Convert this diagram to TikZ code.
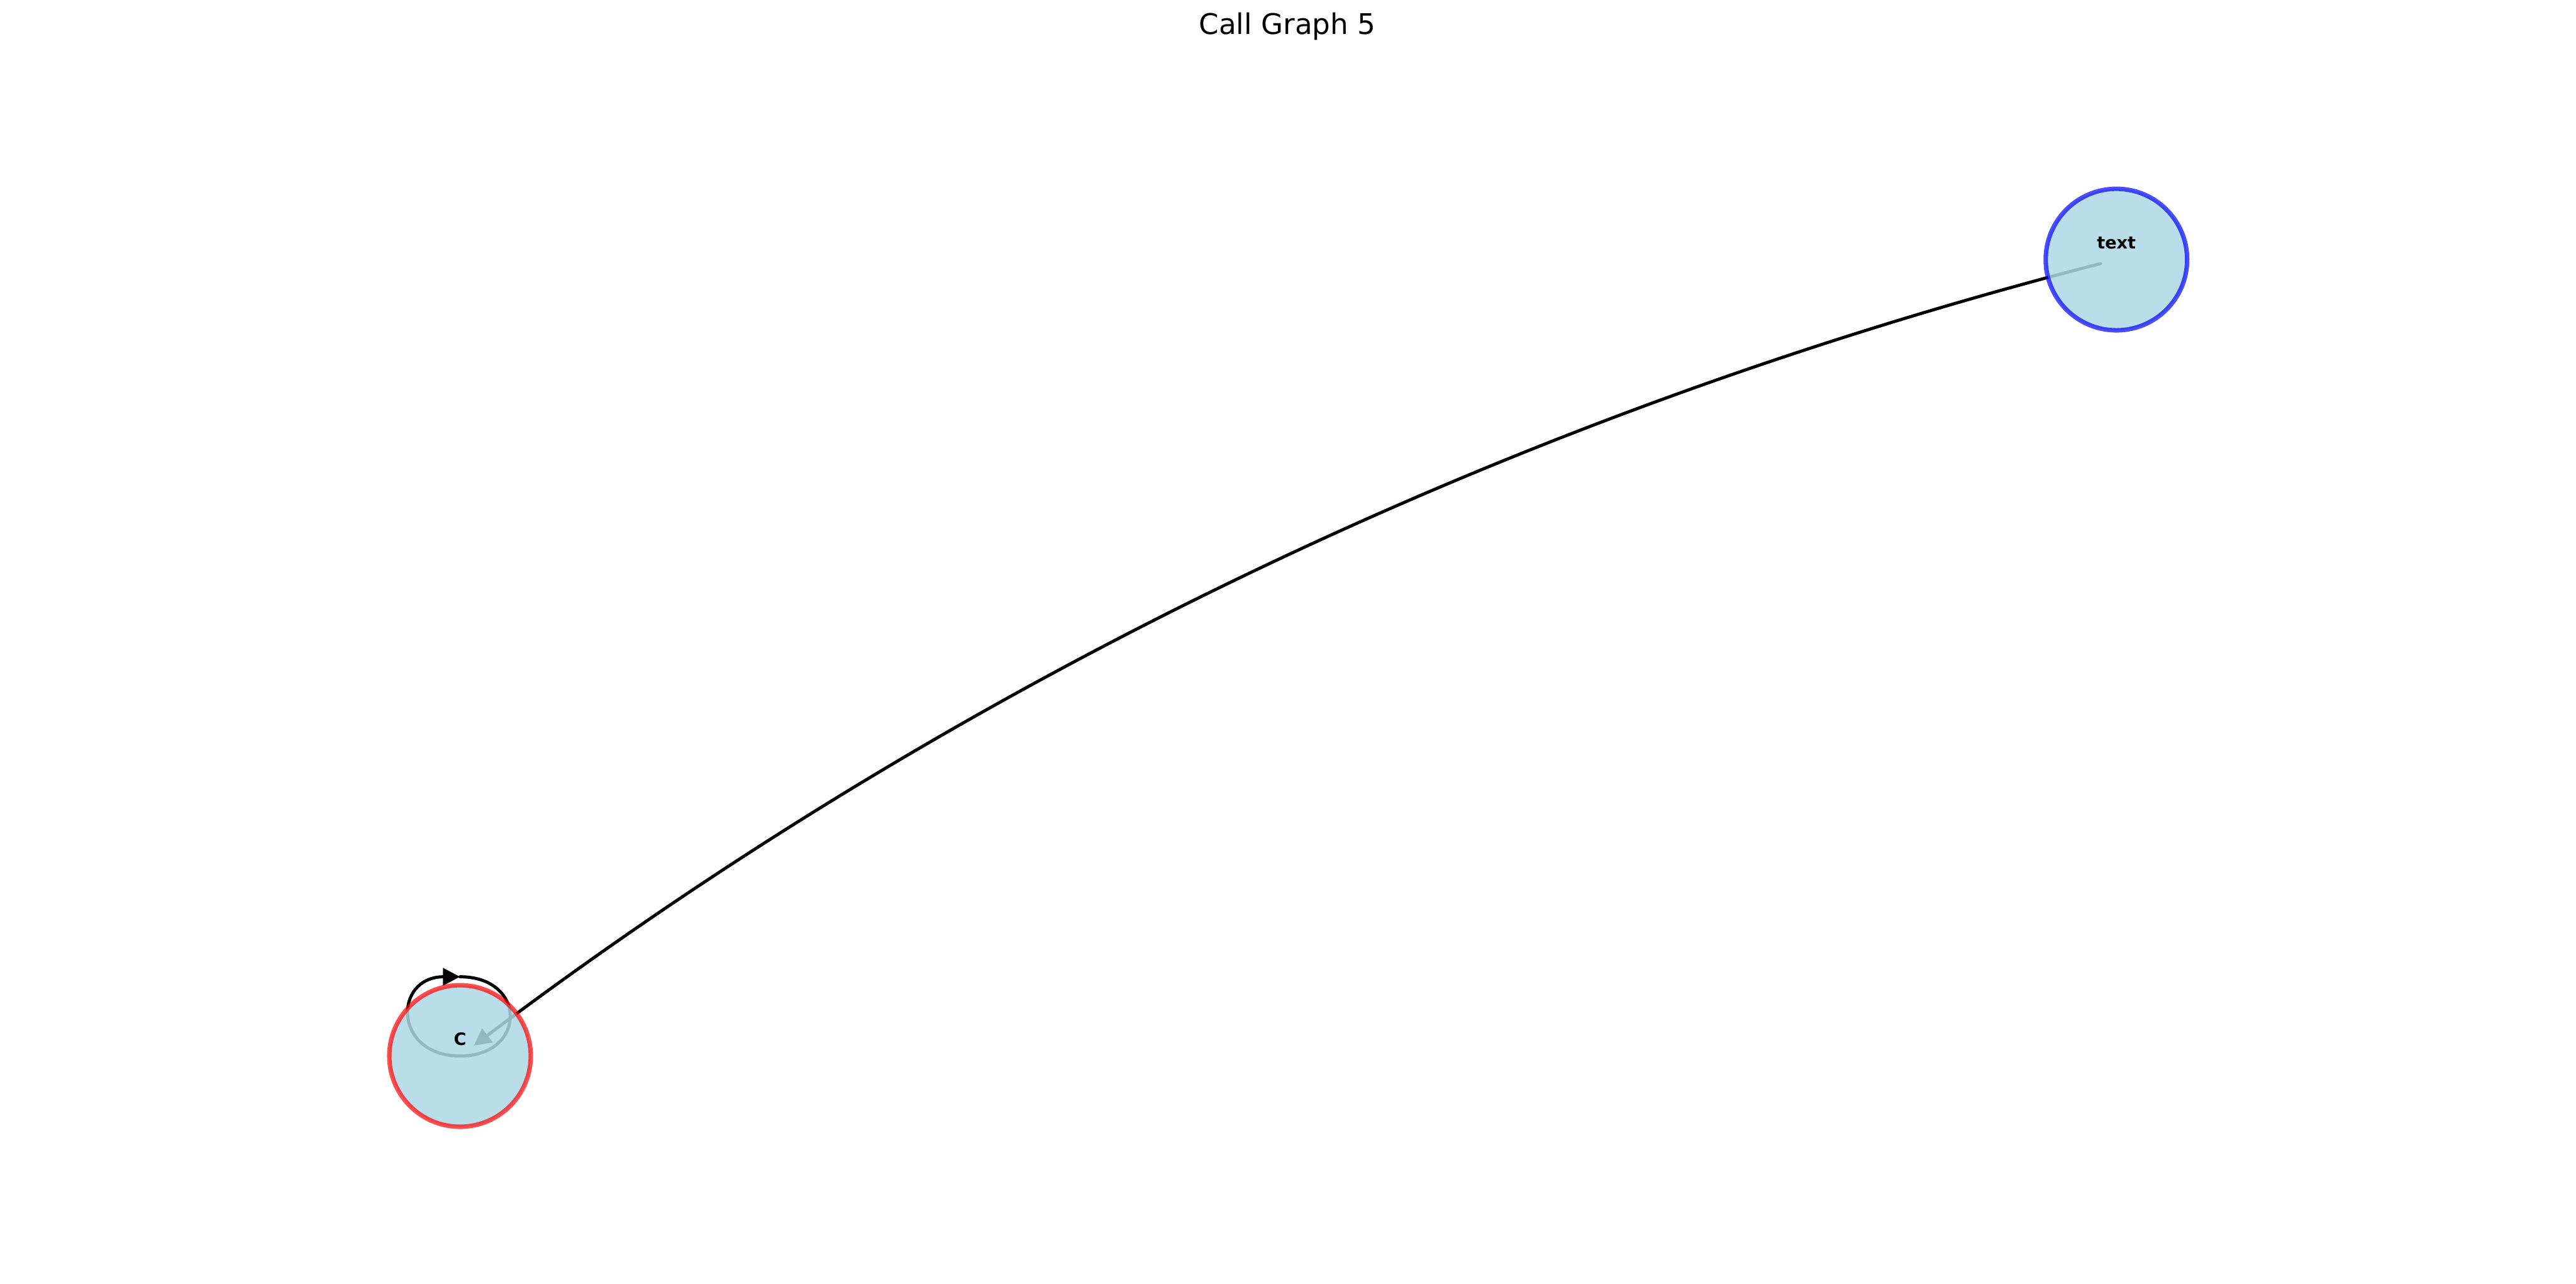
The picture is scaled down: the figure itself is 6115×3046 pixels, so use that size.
\documentclass[tikz,border=0pt]{standalone}
\usepackage{fontspec}
\setmainfont{DejaVu Sans}
\usepackage{tikz}
\usetikzlibrary{arrows.meta}
\definecolor{CGFill}{HTML}{ADD8E6}
\definecolor{CGRed}{HTML}{FF0000}
\definecolor{CGBlue}{HTML}{0000FF}
\pgfdeclarelayer{edges}
\pgfsetlayers{edges,main}

\begin{document}
\begin{tikzpicture}[x=0.01cm,y=0.01cm,
  fn/.style={circle,minimum size=95.5pt,inner sep=0pt,line width=3pt,fill=CGFill,fill opacity=.85,draw opacity=.7},
  call/.style={line width=2.1pt,line cap=round,-{Triangle[length=11.5pt,width=11.5pt]}},
  lbl/.style={font=\fontsize{11.5}{13}\selectfont\bfseries,yshift=11.4pt,text opacity=1}]
\path[use as bounding box] (0,0) rectangle (6115,3046);
\node[anchor=base,font=\fontsize{19.2}{23}\selectfont] (title) at (3056,2964) {Call Graph 5};
\node[fn,draw=CGRed,label={[lbl]center:C}] (c) at (1092,540) {};
\node[fn,draw=CGBlue,label={[lbl]center:text}] (text) at (5024,2430) {};
\begin{pgfonlayer}{edges}
\draw[call,shorten <=11pt,shorten >=11.7pt] (text.center) .. controls (3587,2062) and (2277,1432) .. (c.center);
\draw[call,shift={(c.center)}] (0,188) .. controls (159,188) and (159,0) .. (0,0) .. controls (-159,0) and (-159,188) .. (0,188);
\end{pgfonlayer}
\end{tikzpicture}
\end{document}
